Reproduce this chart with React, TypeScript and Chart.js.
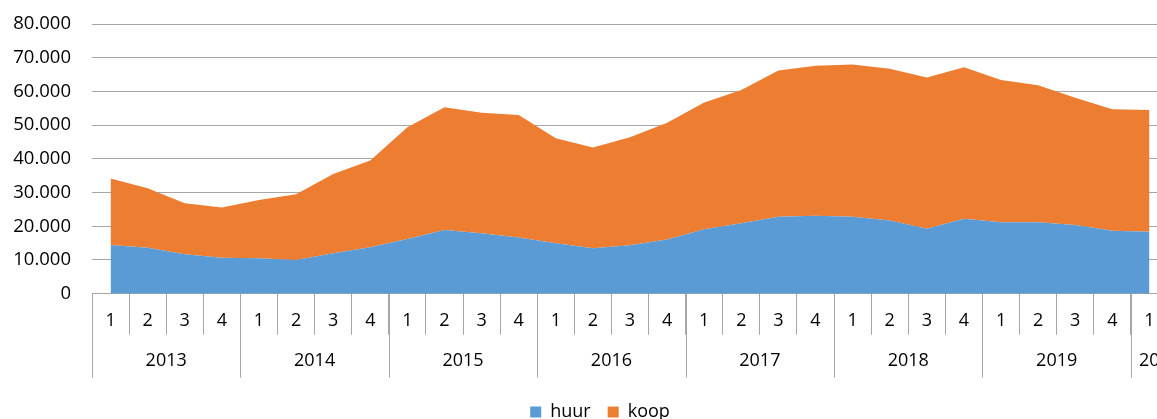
import React, { useEffect, useRef } from 'react';
import { Chart, registerables } from 'chart.js';

Chart.register(...registerables);

// Category axis: quarter (row 1) and year (row 2)
const quarters = [
  '1', '2', '3', '4', '1', '2', '3', '4', '1', '2', '3', '4', '1', '2', '3', '4',
  '1', '2', '3', '4', '1', '2', '3', '4', '1', '2', '3', '4', '1',
];
const years = [
  '2013', '2013', '2013', '2013', '2014', '2014', '2014', '2014',
  '2015', '2015', '2015', '2015', '2016', '2016', '2016', '2016',
  '2017', '2017', '2017', '2017', '2018', '2018', '2018', '2018',
  '2019', '2019', '2019', '2019', '2020',
];

// Series values
const huur = [
  14450, 13600, 11700, 10700, 10500, 10000, 12000, 13800,
  16200, 18900, 17900, 16700, 14950, 13500, 14400, 16100,
  19100, 20900, 22800, 23100, 22800, 21700, 19300, 22200,
  21200, 21200, 20400, 18700, 18400,
];
const koop = [
  19750, 17700, 15100, 14900, 17300, 19500, 23500, 25700,
  33200, 36400, 35800, 36300, 31150, 29900, 32000, 34600,
  37600, 39500, 43400, 44500, 45200, 45000, 44800, 45000,
  42200, 40600, 37700, 36000, 36100,
];

const seriesNames = ['huur', 'koop'];
const seriesColors = ['#5B9BD5', '#ED7D31'];

const yMin = 0;
const yMax = 80000;
const yStep = 10000;

const FONT = '"Open Sans", "Liberation Sans", sans-serif';
const GRID = '#a6a6a6';
const TEXT = '#000000';

function fmtNL(v: number): string {
  return String(Math.round(v)).replace(/\B(?=(\d{3})+(?!\d))/g, '.');
}

const yearRowPlugin = {
  id: 'yearRow',
  afterLayout(chart: any) {
    // centre the legend under the full (uncropped) chart width
    if (chart.legend) {
      chart.legend.left += 16;
      chart.legend.right += 16;
    }
  },
  afterDraw(chart: any) {
    const x = chart.scales.x;
    const ctx = chart.ctx as CanvasRenderingContext2D;
    const top = chart.chartArea.bottom;
    const n = years.length;
    const w = n > 1 ? x.getPixelForValue(1) - x.getPixelForValue(0) : x.width;
    ctx.save();
    ctx.strokeStyle = GRID;
    ctx.lineWidth = 1;
    ctx.fillStyle = TEXT;
    ctx.font = `18px ${FONT}`;
    ctx.textAlign = 'center';
    ctx.textBaseline = 'middle';
    let start = 0;
    const line = (px: number) => {
      const xx = Math.round(px) + 0.5;
      ctx.beginPath();
      ctx.moveTo(xx, top);
      ctx.lineTo(xx, top + 84);
      ctx.stroke();
    };
    for (let i = 1; i <= n; i++) {
      if (i === n || years[i] !== years[start]) {
        const left = x.getPixelForValue(start) - w / 2;
        const right = x.getPixelForValue(i - 1) + w / 2;
        line(left);
        if (i === n) line(right);
        const label = years[start];
        const tw = ctx.measureText(label).width;
        const cx = Math.max((left + right) / 2, left + tw / 2 + 8);
        ctx.fillText(label, cx, top + 67);
        start = i;
      }
    }
    ctx.restore();
  },
};

export default function App() {
  const ref = useRef<HTMLCanvasElement | null>(null);

  useEffect(() => {
    if (!ref.current) return;
    const chart = new Chart(ref.current, {
      type: 'line',
      data: {
        labels: quarters.map((q, i) => `${years[i]} ${q}`),
        datasets: [
          {
            label: seriesNames[0],
            data: huur,
            backgroundColor: seriesColors[0],
            borderColor: seriesColors[0],
            borderWidth: 0,
            pointRadius: 0,
            fill: 'origin',
            tension: 0,
          },
          {
            label: seriesNames[1],
            data: koop,
            backgroundColor: seriesColors[1],
            borderColor: seriesColors[1],
            borderWidth: 0,
            pointRadius: 0,
            fill: '-1',
            tension: 0,
          },
        ],
      },
      plugins: [yearRowPlugin],
      options: {
        animation: false,
        responsive: true,
        maintainAspectRatio: false,
        layout: { padding: { top: 24, left: 0, right: 0, bottom: 0 } },
        plugins: {
          legend: {
            position: 'bottom',
            labels: {
              boxWidth: 11,
              boxHeight: 11,
              padding: 17,
              color: TEXT,
              font: { family: FONT, size: 18 },
            },
          },
          tooltip: { enabled: false },
          filler: { propagate: false },
        },
        scales: {
          x: {
            type: 'category',
            offset: true,
            afterFit: (s: any) => {
              s.height = 92.3;
            },
            grid: {
              offset: true,
              drawOnChartArea: false,
              drawTicks: true,
              tickLength: 41,
              color: GRID,
            },
            border: { display: true, color: GRID },
            ticks: {
              autoSkip: false,
              maxRotation: 0,
              padding: -25,
              color: TEXT,
              font: { family: FONT, size: 18 },
              callback: (_v: any, i: number) => quarters[i],
            },
          },
          y: {
            stacked: true,
            min: yMin,
            max: yMax,
            afterFit: (s: any) => {
              s.width = 92;
            },
            grid: {
              color: GRID,
              drawTicks: true,
              tickLength: 21,
              tickColor: 'rgba(0,0,0,0)',
            },
            border: { display: false },
            ticks: {
              stepSize: yStep,
              padding: 0,
              color: TEXT,
              font: { family: FONT, size: 18.5 },
              callback: (v: any) => fmtNL(Number(v)),
            },
          },
        },
      },
    });
    return () => chart.destroy();
  }, []);

  return (
    <div
      style={{
        position: 'fixed',
        left: 0,
        top: 0,
        width: 1157,
        height: 419,
        overflow: 'hidden',
        background: '#ffffff',
      }}
    >
      <div style={{ position: 'relative', width: 1168, height: 431 }}>
        <canvas ref={ref} />
      </div>
    </div>
  );
}
